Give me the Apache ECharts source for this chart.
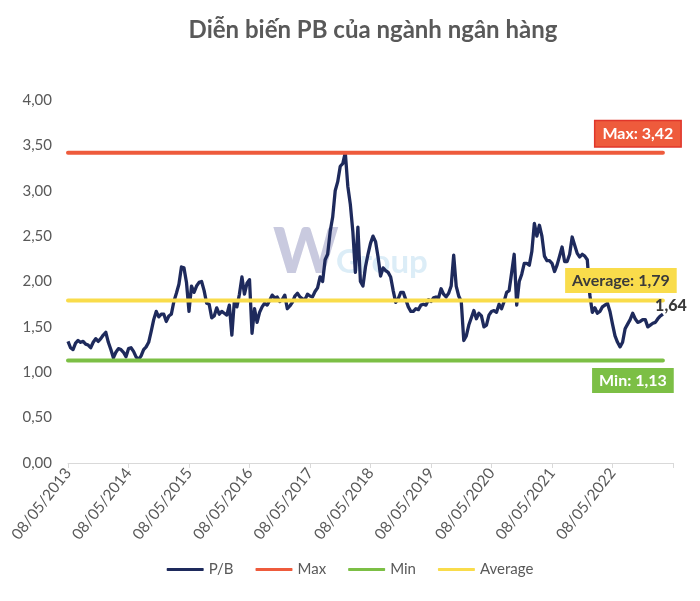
<!DOCTYPE html>
<html><head><meta charset="utf-8">
<script src="https://cdn.jsdelivr.net/npm/echarts@6/dist/echarts.min.js"></script>
<style>html,body{margin:0;padding:0;background:#fff}#c{width:700px;height:601px}</style>
</head><body><div id="c"></div>
<script>
const chartTitle = 'Diễn biến PB của ngành ngân hàng';
const tickLabels = ['08/05/2013','08/05/2014','08/05/2015','08/05/2016','08/05/2017','08/05/2018','08/05/2019','08/05/2020','08/05/2021','08/05/2022'];
const periodsPerYear = 24;      // half-month sampling
const axisPeriods = 240;        // axis spans 10 years
// P/B, sampled every half month starting 08/05/2013
const pb = [
1.34,1.27,1.25,1.32,1.35,1.33,1.34,1.31,1.30,1.27,1.33,1.37,1.34,1.37,1.41,1.44,1.33,1.25,1.16,1.22,
1.26,1.25,1.22,1.17,1.26,1.27,1.23,1.17,1.14,1.18,1.25,1.28,1.33,1.45,1.58,1.67,1.61,1.64,1.64,1.56,
1.62,1.64,1.78,1.87,1.97,2.16,2.15,1.99,1.67,1.95,1.88,1.95,1.99,2.00,1.90,1.76,1.75,1.60,1.62,1.71,
1.64,1.67,1.65,1.63,1.74,1.41,1.79,1.72,1.86,2.05,1.86,1.98,2.02,1.43,1.70,1.55,1.66,1.72,1.76,1.74,
1.79,1.85,1.82,1.83,1.78,1.80,1.85,1.70,1.73,1.77,1.84,1.87,1.83,1.81,1.80,1.86,1.84,1.83,1.89,1.93,
2.05,2.00,2.24,2.30,2.55,2.71,3.00,3.10,3.27,3.30,3.42,3.05,2.85,2.55,2.10,2.60,2.00,1.95,2.16,2.30,
2.42,2.50,2.44,2.27,2.06,2.15,2.12,2.10,2.05,1.90,1.77,1.81,1.88,1.88,1.80,1.72,1.67,1.67,1.70,1.69,
1.74,1.75,1.74,1.80,1.78,1.82,1.83,1.82,1.92,1.86,1.83,1.87,1.95,2.29,1.95,1.84,1.78,1.35,1.40,1.52,
1.60,1.68,1.59,1.65,1.62,1.50,1.52,1.63,1.67,1.68,1.66,1.75,1.70,1.78,1.88,1.90,2.10,2.30,1.74,2.00,
2.08,2.20,2.20,2.18,2.33,2.64,2.50,2.62,2.50,2.28,2.23,2.23,2.20,2.11,2.18,2.28,2.38,2.22,2.22,2.30,
2.49,2.40,2.31,2.27,2.30,2.28,2.24,1.85,1.66,1.71,1.65,1.67,1.72,1.74,1.76,1.67,1.53,1.40,1.33,1.28,
1.33,1.48,1.53,1.58,1.65,1.59,1.55,1.56,1.58,1.58,1.50,1.52,1.54,1.55,1.59,1.62,1.64
];
const maxValue = 3.42;
const minValue = 1.13;
const avgValue = 1.79;
const seriesNames = ['P/B','Max','Min','Average'];

const colors = {pb:'#1E2A5C', max:'#EE5B3C', min:'#7CBF45', avg:'#F9DC4B', text:'#595959'};
const fmt = v => v.toFixed(2).replace('.', ',');
const categories = [];
for (let i = 0; i <= axisPeriods; i++) categories.push(String(i));
const lastIdx = pb.length - 1;
const lastVal = pb[lastIdx];

function flatLine(v){ return pb.map(() => v); }
function boxLabel(text, bg, border, color, offset){
  return {
    symbol:'circle', symbolSize:1, itemStyle:{color:'rgba(0,0,0,0)'},
    label:{show:true, position:'inside', offset:offset, formatter:text,
      backgroundColor:bg, borderColor:border, borderWidth:border?1.5:0,
      padding:[5,7,4,7], color:color, fontFamily:'Lato', fontWeight:'bold', fontSize:16}
  };
}

const chart = echarts.init(document.getElementById('c'), null, {renderer:'canvas'});
chart.setOption({
  animation:false,
  backgroundColor:'#fff',
  title:{text:chartTitle, left:368, top:13, textAlign:'center',
    textStyle:{fontFamily:'Lato', fontWeight:'bold', fontSize:24, color:colors.text}},
  graphic:[
    {type:'text', left:273, top:222, z:0, silent:true,
      style:{text:'W', fontFamily:'Lato', fontWeight:900, fontSize:62, fill:'#C9CADF'}},
    {type:'text', left:336, top:246, z:0, silent:true,
      style:{text:'Group', fontFamily:'Lato', fontWeight:'bold', fontSize:33, fill:'#DCEDF7'}}
  ],
  legend:{data:seriesNames, bottom:19, left:'center', icon:'roundRect', itemWidth:37, itemHeight:3, itemGap:22,
    textStyle:{fontFamily:'Lato', fontSize:15, color:colors.text}},
  grid:{left:68, right:27, top:100, bottom:138},
  xAxis:{type:'category', data:categories, boundaryGap:false,
    axisLine:{lineStyle:{color:'#D9D9D9', width:1}},
    axisTick:{show:true, length:5, lineStyle:{color:'#D9D9D9'},
      interval:(idx)=> idx % periodsPerYear === 0},
    axisLabel:{rotate:52, margin:7, fontFamily:'Lato', fontSize:15.5, color:colors.text,
      interval:(idx)=> idx % periodsPerYear === 0,
      formatter:(v, idx)=> tickLabels[idx / periodsPerYear] || ''},
    splitLine:{show:false}},
  yAxis:{type:'value', min:0, max:4, interval:0.5,
    axisLine:{show:false}, axisTick:{show:false}, splitLine:{show:false},
    axisLabel:{margin:16, fontFamily:'Lato', fontSize:15, color:colors.text, formatter:v=>fmt(v)}},
  series:[
    {name:'P/B', type:'line', data:pb, showSymbol:false, z:3,
      lineStyle:{color:colors.pb, width:3.3, join:'round'}, itemStyle:{color:colors.pb},
      markPoint:{data:[Object.assign({coord:[lastIdx, lastVal]}, {
        symbol:'circle', symbolSize:1, itemStyle:{color:'rgba(0,0,0,0)'},
        label:{show:true, position:'inside', offset:[8,-8], formatter:fmt(lastVal),
          color:'#3A3A3A', fontFamily:'Lato', fontWeight:900, fontSize:16}})]}},
    {name:'Max', type:'line', data:flatLine(maxValue), showSymbol:false, z:3,
      lineStyle:{color:colors.max, width:4, cap:'round'}, itemStyle:{color:colors.max},
      markPoint:{data:[Object.assign({coord:[lastIdx, maxValue]},
        boxLabel('Max: '+fmt(maxValue), colors.max, '#E0362A', '#fff', [-25,-19]))]}},
    {name:'Min', type:'line', data:flatLine(minValue), showSymbol:false, z:3,
      lineStyle:{color:colors.min, width:4, cap:'round'}, itemStyle:{color:colors.min},
      markPoint:{data:[Object.assign({coord:[lastIdx, minValue]},
        boxLabel('Min: '+fmt(minValue), colors.min, null, '#fff', [-30,20]))]}},
    {name:'Average', type:'line', data:flatLine(avgValue), showSymbol:false, z:3,
      lineStyle:{color:colors.avg, width:4, cap:'round'}, itemStyle:{color:colors.avg},
      markPoint:{data:[Object.assign({coord:[lastIdx, avgValue]},
        boxLabel('Average: '+fmt(avgValue), colors.avg, null, '#3A3A3A', [-42,-20]))]}}
  ]
});
</script></body></html>
